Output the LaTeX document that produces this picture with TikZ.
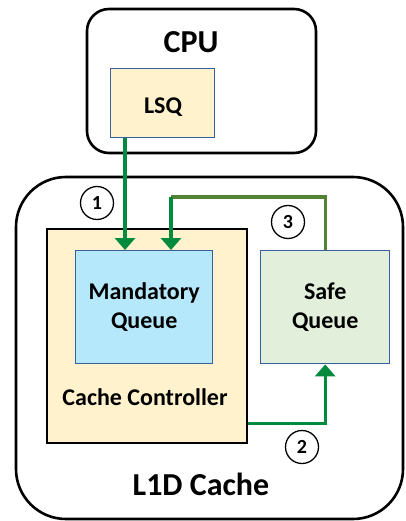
\documentclass[tikz,border=0pt]{standalone}
\usepackage{fontspec}
\setmainfont{Carlito}
\usetikzlibrary{arrows.meta}
\definecolor{gArrow}{HTML}{008A3E}
\definecolor{gOlive}{HTML}{548235}
\definecolor{bBorder}{HTML}{3A5FA0}
\definecolor{fYellow}{HTML}{FFF2CC}
\definecolor{fBlue}{HTML}{B5E8FB}
\definecolor{fGreen}{HTML}{E2EFDA}
\tikzset{
  outerbox/.style={draw=black, line width=2.6pt, rounded corners=#1},
  queuebox/.style={draw=bBorder, line width=1.4pt},
  ctrlbox/.style={draw=black, line width=1.8pt, fill=fYellow},
  bigtxt/.style={font=\fontsize{32}{36}\selectfont\bfseries},
  midtxt/.style={font=\fontsize{24}{29}\selectfont\bfseries, align=center},
  arr/.style={draw=gArrow, line width=3.2pt, -{Triangle[width=20pt,length=12pt]}},
  numcirc/.style={circle, draw=black, line width=1.3pt, minimum size=33pt, inner sep=0pt, font=\fontsize{20}{22}\selectfont\bfseries}
}
\begin{document}
\begin{tikzpicture}[x=1pt,y=-1pt]
\useasboundingbox (0,0) rectangle (405,521);
% outer boxes
\draw[outerbox=22pt] (87,9) rectangle (316,153);
\node[bigtxt] (cputxt) at (191,42) {CPU};
\draw[outerbox=50pt] (16,177) rectangle (403,519);
\node[bigtxt] (l1dtxt) at (201,484) {L1D Cache};
% LSQ
\node[queuebox, fill=fYellow, minimum width=104pt, minimum height=69pt, inner sep=0pt, anchor=north west] (lsq) at (110,68) {};
\node[midtxt] (lsqtxt) at (163,107) {LSQ};
% cache controller
\node[ctrlbox, minimum width=200pt, minimum height=214pt, inner sep=0pt, anchor=north west] (cc) at (46,228) {};
\node[midtxt] (cctxt) at (145,397) {Cache Controller};
% queues
\node[queuebox, fill=fBlue, minimum width=137pt, minimum height=113pt, inner sep=0pt, anchor=north west, midtxt] (mq) at (75,250) {Mandatory\\Queue};
\node[queuebox, fill=fGreen, minimum width=129pt, minimum height=113pt, inner sep=0pt, anchor=north west, midtxt] (sq) at (260,250) {Safe\\Queue};
% arrows
\draw[arr] ([xshift=15pt]lsq.south west) -- ([xshift=50pt]mq.north west);
\coordinate (c3) at (171,197);
\draw[draw=gOlive, line width=3.2pt] (sq.north) |- (c3);
\draw[arr] (c3) -- ([xshift=96pt]mq.north west);
\draw[arr] ([yshift=20pt]cc.south east) -| (sq.south);
% numbers
\node[numcirc] (n1) at (97,203) {1};
\node[numcirc] (n3) at (288,222) {3};
\node[numcirc] (n2) at (302,447) {2};
\end{tikzpicture}
\end{document}
